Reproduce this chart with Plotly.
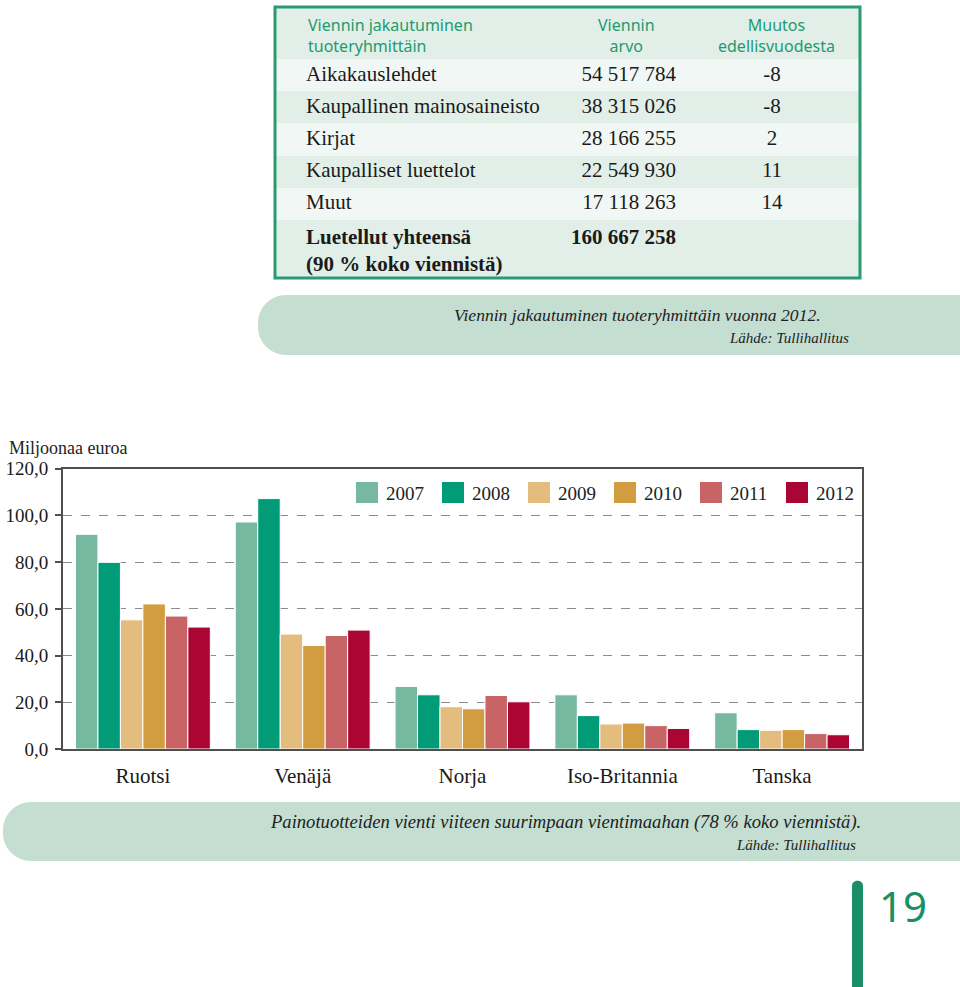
import plotly.graph_objects as go

W, H = 960, 987


def px(x):
    return x / W


def py(y):
    return 1 - y / H


# ---------------- data ----------------
countries = ["Ruotsi", "Venäjä", "Norja", "Iso-Britannia", "Tanska"]
years = ["2007", "2008", "2009", "2010", "2011", "2012"]
v2007 = [91.9, 97.2, 26.8, 23.2, 15.5]
v2008 = [79.9, 107.2, 23.2, 14.3, 8.3]
v2009 = [55.3, 49.2, 18.1, 10.7, 8.0]
v2010 = [62.1, 44.3, 17.2, 11.1, 8.3]
v2011 = [56.9, 48.6, 22.9, 10.0, 6.6]
v2012 = [52.2, 50.9, 20.2, 8.8, 6.1]
series = [v2007, v2008, v2009, v2010, v2011, v2012]
bar_colors = ["#77b9a0", "#019b78", "#e4bc7e", "#d29c40", "#c86366", "#ab0533"]

y_tickvals = [0, 20, 40, 60, 80, 100, 120]
y_ticktext = ["0,0", "20,0", "40,0", "60,0", "80,0", "100,0", "120,0"]

table_header = ["Viennin jakautuminen<br>tuoteryhmittäin", "Viennin<br>arvo",
                "Muutos<br>edellisvuodesta"]
table_products = ["Aikakauslehdet", "Kaupallinen mainosaineisto", "Kirjat",
                  "Kaupalliset luettelot", "Muut",
                  "<b>Luetellut yhteensä<br>(90 % koko viennistä)</b>"]
table_values = ["54 517 784", "38 315 026", "28 166 255", "22 549 930",
                "17 118 263", "<b>160 667 258</b>"]
table_change = ["-8", "-8", "2", "11", "14", ""]

caption1 = "Viennin jakautuminen tuoteryhmittäin vuonna 2012."
caption2 = "Painotuotteiden vienti viiteen suurimpaan vientimaahan (78 % koko viennistä)."
source = "Lähde: Tullihallitus"
page_no = "19"

# ---------------- styles ----------------
SERIF = "Liberation Serif"
GREEN = "#2a9a70"
HEAD_GREEN = "#1f9a70"
MINT = "#e1efe8"
LIGHT = "#f1f7f4"
BANNER = "#c4ded2"
AXIS = "#4f4f4f"
CLEAR = "rgba(0,0,0,0)"


def nowrap(seq):
    # keep each line on one line inside the table cells
    return [s.replace(" ", "\u00a0") for s in seq]


fig = go.Figure()

# ---------------- table ----------------
n_rows = len(table_products)
fig.add_trace(go.Table(
    domain=dict(x=[px(275), px(860)], y=[py(278), py(7)]),
    columnwidth=[23, 254, 132, 176],
    header=dict(
        values=["", "", "", ""],
        fill=dict(color=CLEAR),
        line=dict(color=CLEAR, width=0),
        font=dict(family="Noto Sans", size=16, color=HEAD_GREEN),
        height=50,
    ),
    cells=dict(
        values=[[""] * n_rows, nowrap(table_products), nowrap(table_values), table_change],
        align=["left", "left", "right", "center"],
        fill=dict(color=CLEAR),
        line=dict(color=CLEAR, width=0),
        font=dict(family=SERIF, size=21, color="#1a1a1a"),
        height=32,
    ),
))

# ---------------- bars ----------------
for yr, vals, col in zip(years, series, bar_colors):
    fig.add_trace(go.Bar(
        x=countries, y=vals, name=yr,
        marker=dict(color=col, line=dict(color="white", width=1)),
        showlegend=False,
    ))

shapes = []
annotations = []

# row striping of the table (header + body rows)
row_edges = [7, 59, 91, 123, 156, 188, 220, 278]
row_fill = [MINT, LIGHT, MINT, LIGHT, MINT, LIGHT, MINT]
for (ya, yb), col in zip(zip(row_edges[:-1], row_edges[1:]), row_fill):
    shapes.append(dict(type="rect", xref="paper", yref="paper", layer="below",
                       x0=px(275), x1=px(860), y0=py(yb), y1=py(ya),
                       fillcolor=col, line=dict(width=0)))

# header cells of the table
for txt, xc, anchor in [(table_header[0], 306, "left"),
                        (table_header[1], 626, "center"),
                        (table_header[2], 776, "center")]:
    annotations.append(dict(x=px(xc), y=py(35), xref="paper", yref="paper",
                            text=txt, showarrow=False, align=anchor,
                            xanchor=anchor, yanchor="middle",
                            font=dict(family="Noto Sans", size=16, color=HEAD_GREEN)))

# table border
shapes.append(dict(type="rect", xref="paper", yref="paper",
                   x0=px(275), x1=px(860), y0=py(278), y1=py(7),
                   line=dict(color=GREEN, width=3), fillcolor=CLEAR))


def pill_path(x0, x1, y0, y1, r):
    k = 0.5523 * r
    pts = [
        f"M {px(x0 + r)} {py(y0)}",
        f"L {px(x1)} {py(y0)}",
        f"L {px(x1)} {py(y1)}",
        f"L {px(x0 + r)} {py(y1)}",
        f"C {px(x0 + r - k)} {py(y1)} {px(x0)} {py(y1 - r + k)} {px(x0)} {py(y1 - r)}",
        f"L {px(x0)} {py(y0 + r)}",
        f"C {px(x0)} {py(y0 + r - k)} {px(x0 + r - k)} {py(y0)} {px(x0 + r)} {py(y0)}",
        "Z",
    ]
    return " ".join(pts)


shapes.append(dict(type="path", xref="paper", yref="paper", layer="below",
                   path=pill_path(258, 960, 295, 355, 28),
                   fillcolor=BANNER, line=dict(width=0)))
shapes.append(dict(type="path", xref="paper", yref="paper", layer="below",
                   path=pill_path(3, 960, 802, 861, 28),
                   fillcolor=BANNER, line=dict(width=0)))

# page-number bar
shapes.append(dict(type="path", xref="paper", yref="paper",
                   path=(f"M {px(852)} {py(987)} L {px(852)} {py(886)} "
                         f"C {px(852)} {py(879)} {px(863)} {py(879)} {px(863)} {py(886)} "
                         f"L {px(863)} {py(987)} Z"),
                   fillcolor="#1a8f66", line=dict(width=0)))

# legend (custom, large swatches)
for i, (yr, col) in enumerate(zip(years, bar_colors)):
    x0 = 356 + i * 86
    shapes.append(dict(type="rect", xref="paper", yref="paper",
                       x0=px(x0), x1=px(x0 + 22), y0=py(503), y1=py(482),
                       fillcolor=col, line=dict(width=0)))
    annotations.append(dict(x=px(x0 + 28), y=py(493), xref="paper", yref="paper",
                            text=yr, showarrow=False, xanchor="left", yanchor="middle",
                            font=dict(family=SERIF, size=19, color="#222")))

annotations.append(dict(x=px(7), y=py(448), xref="paper", yref="paper",
                        text="Miljoonaa euroa", showarrow=False,
                        xanchor="left", yanchor="middle",
                        font=dict(family=SERIF, size=18, color="#222")))

# captions
annotations.append(dict(x=px(823), y=py(315), xref="paper", yref="paper",
                        text=f"<i>{caption1}</i>", showarrow=False,
                        xanchor="right", yanchor="middle",
                        font=dict(family=SERIF, size=17.6, color="#222")))
annotations.append(dict(x=px(851), y=py(338), xref="paper", yref="paper",
                        text=f"<i>{source}</i>", showarrow=False,
                        xanchor="right", yanchor="middle",
                        font=dict(family=SERIF, size=15, color="#222")))
annotations.append(dict(x=px(863), y=py(822), xref="paper", yref="paper",
                        text=f"<i>{caption2}</i>", showarrow=False,
                        xanchor="right", yanchor="middle",
                        font=dict(family=SERIF, size=18.6, color="#222")))
annotations.append(dict(x=px(858), y=py(845), xref="paper", yref="paper",
                        text=f"<i>{source}</i>", showarrow=False,
                        xanchor="right", yanchor="middle",
                        font=dict(family=SERIF, size=15, color="#222")))
annotations.append(dict(x=px(877), y=py(905), xref="paper", yref="paper",
                        text=page_no, showarrow=False,
                        xanchor="left", yanchor="middle",
                        font=dict(family="Noto Sans", size=42, color="#1a8f66")))

fig.update_layout(
    width=W, height=H,
    margin=dict(l=0, r=0, t=0, b=0),
    paper_bgcolor="white", plot_bgcolor="white",
    barmode="group", bargap=0.156, bargroupgap=0,
    showlegend=False,
    shapes=shapes, annotations=annotations,
    xaxis=dict(
        domain=[px(63), px(862)],
        showline=True, linecolor=AXIS, linewidth=2, mirror=True,
        ticks="", showgrid=False, automargin=False,
        tickfont=dict(family=SERIF, size=21, color="#1a1a1a"),
        ticklabelstandoff=7,
    ),
    yaxis=dict(
        domain=[py(749), py(468.7)],
        range=[0, 120],
        tickvals=y_tickvals, ticktext=y_ticktext,
        showline=True, linecolor=AXIS, linewidth=2, mirror=True,
        ticks="outside", ticklen=6, tickwidth=2, tickcolor=AXIS,
        showgrid=True, gridcolor="#8c8c8c", gridwidth=1.3, griddash="dash",
        zeroline=False, automargin=False,
        tickfont=dict(family=SERIF, size=19, color="#1a1a1a"),
        ticklabelstandoff=3,
    ),
)

fig.write_html(
    "out.html",
    config={"displayModeBar": False},
    post_script="document.body.style.margin='0';document.body.style.overflow='hidden';",
)
